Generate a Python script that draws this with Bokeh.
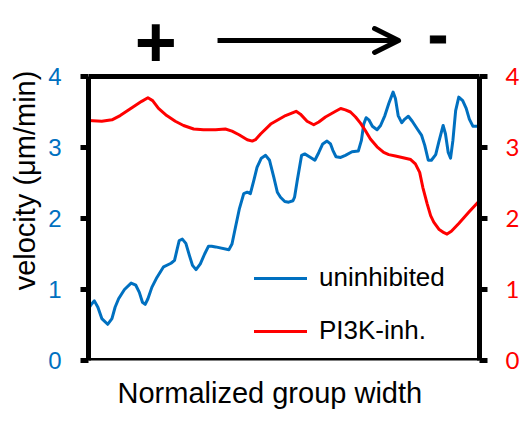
from bokeh.plotting import figure
from bokeh.models import (Range1d, LinearAxis, FixedTicker, Legend, LegendItem,
                          Label, Arrow, OpenHead, Span, Title)
from bokeh.embed import file_html
from bokeh.resources import INLINE

# ---- data (normalized group width, velocity µm/min) ----
uninhibited_x = [0.000, 0.007, 0.015, 0.024, 0.034, 0.049, 0.060, 0.068, 0.077, 0.092,
                 0.109, 0.121, 0.130, 0.138, 0.145, 0.152, 0.162, 0.175, 0.192, 0.211,
                 0.220, 0.226, 0.232, 0.240, 0.249, 0.258, 0.266, 0.275, 0.286, 0.297,
                 0.307, 0.315, 0.325, 0.359, 0.367, 0.376, 0.386, 0.397, 0.406, 0.414,
                 0.423, 0.431, 0.442, 0.453, 0.463, 0.474, 0.483, 0.491, 0.502, 0.512,
                 0.523, 0.527, 0.534, 0.545, 0.553, 0.568, 0.579, 0.589, 0.599, 0.610,
                 0.619, 0.625, 0.633, 0.645, 0.657, 0.674, 0.690, 0.698, 0.704, 0.710,
                 0.717, 0.726, 0.738, 0.747, 0.758, 0.768, 0.779, 0.785, 0.792, 0.801,
                 0.809, 0.818, 0.828, 0.841, 0.852, 0.860, 0.869, 0.877, 0.888, 0.896,
                 0.907, 0.913, 0.920, 0.926, 0.932, 0.939, 0.947, 0.957, 0.966, 0.974,
                 0.983, 0.998]
uninhibited_v = [0.73, 0.79, 0.84, 0.75, 0.59, 0.51, 0.59, 0.75, 0.87, 1.00,
                 1.09, 1.06, 0.96, 0.82, 0.79, 0.87, 1.03, 1.17, 1.32, 1.37,
                 1.41, 1.55, 1.69, 1.71, 1.65, 1.48, 1.34, 1.28, 1.36, 1.50,
                 1.61, 1.61, 1.60, 1.56, 1.64, 1.88, 2.14, 2.35, 2.37, 2.35,
                 2.54, 2.72, 2.85, 2.89, 2.82, 2.58, 2.37, 2.30, 2.24, 2.23,
                 2.25, 2.30, 2.54, 2.89, 2.91, 2.86, 2.82, 2.93, 3.05, 3.09,
                 3.05, 2.96, 2.87, 2.86, 2.89, 2.94, 2.95, 3.10, 3.33, 3.42,
                 3.39, 3.30, 3.25, 3.31, 3.45, 3.62, 3.78, 3.69, 3.45, 3.35,
                 3.40, 3.44, 3.37, 3.26, 3.17, 3.03, 2.82, 2.82, 2.90, 3.08,
                 3.31, 3.19, 2.93, 2.85, 3.10, 3.52, 3.71, 3.66, 3.55, 3.40,
                 3.30, 3.30]

pi3k_x = [0.000, 0.034, 0.060, 0.081, 0.111, 0.136, 0.152, 0.164, 0.179, 0.200,
          0.222, 0.243, 0.269, 0.294, 0.325, 0.350, 0.367, 0.385, 0.406, 0.419,
          0.427, 0.440, 0.466, 0.504, 0.531, 0.542, 0.559, 0.576, 0.589, 0.606,
          0.632, 0.645, 0.657, 0.670, 0.683, 0.696, 0.708, 0.721, 0.738, 0.755,
          0.768, 0.785, 0.802, 0.824, 0.836, 0.847, 0.855, 0.866, 0.875, 0.883,
          0.896, 0.909, 0.917, 0.928, 0.947, 0.973, 0.998]
pi3k_v = [3.38, 3.37, 3.39, 3.45, 3.56, 3.65, 3.70, 3.66, 3.55, 3.45,
          3.37, 3.31, 3.26, 3.25, 3.25, 3.26, 3.23, 3.18, 3.11, 3.09,
          3.11, 3.19, 3.33, 3.45, 3.51, 3.47, 3.37, 3.32, 3.36, 3.43,
          3.51, 3.55, 3.53, 3.50, 3.43, 3.34, 3.24, 3.12, 3.01, 2.93,
          2.90, 2.88, 2.86, 2.83, 2.77, 2.65, 2.44, 2.21, 2.04, 1.95,
          1.85, 1.80, 1.78, 1.82, 1.93, 2.09, 2.24]

y_ticks = [0, 1, 2, 3, 4]
y_min, y_max = 0, 4
series_names = ["uninhibited", "PI3K-inh."]
x_title = "Normalized group width"
y_title = "velocity (μm/min)"
blue = "#0070C0"
red = "#FF0000"

# frame reaches up to the top of the canvas so the "+ --> -" strip is drawn inside it;
# the visible box is made of axes bounded to 0..4 plus spans at 0 and 4
top_extent = 360 / 71
p = figure(width=522, height=423, output_backend="svg", toolbar_location=None,
           x_range=Range1d(0, 1), y_range=Range1d(0, top_extent),
           min_border_left=88, min_border_right=43, min_border_top=0,
           min_border_bottom=63, x_axis_location=None, y_axis_location=None)
p.extra_y_ranges = {"right": Range1d(0, top_extent)}
p.grid.visible = False
p.outline_line_color = None
p.background_fill_color = "white"
p.border_fill_color = "white"

ly = LinearAxis(ticker=FixedTicker(ticks=y_ticks), axis_label=y_title,
                bounds=(y_min, y_max))
ly.axis_line_width = 5
ly.major_tick_line_width = 5
ly.major_tick_in = 0
ly.major_tick_out = 8
ly.minor_tick_line_color = None
ly.major_label_text_color = blue
ly.major_label_text_font = "Liberation Sans"
ly.major_label_text_font_size = "24px"
ly.major_label_standoff = 19
ly.axis_label_text_font = "Liberation Sans"
ly.axis_label_text_font_size = "29px"
ly.axis_label_text_font_style = "normal"
ly.axis_label_text_color = "black"
ly.axis_label_standoff = 4
p.add_layout(ly, "left")

ry = LinearAxis(ticker=FixedTicker(ticks=y_ticks), y_range_name="right",
                bounds=(y_min, y_max))
ry.axis_line_width = 5
ry.major_tick_line_width = 5
ry.major_tick_in = 0
ry.major_tick_out = 8
ry.minor_tick_line_color = None
ry.major_label_text_color = red
ry.major_label_text_font = "Lato"
ry.major_label_text_font_size = "24px"
ry.major_label_standoff = 18
p.add_layout(ry, "right")

# x title below the box (sits a little left of centre in the original)
p.add_layout(Title(text=x_title, align="left", offset=29, standoff=29,
                   text_font="Liberation Sans", text_font_size="29px",
                   text_font_style="normal", text_color="black",
                   vertical_align="bottom"), "below")

p.add_layout(Span(location=y_min, dimension="width", line_color="black", line_width=5))
p.add_layout(Span(location=y_max, dimension="width", line_color="black", line_width=5))

r1 = p.line(uninhibited_x, uninhibited_v, line_color=blue, line_width=3,
            line_join="round", line_cap="round")
r2 = p.line(pi3k_x, pi3k_v, line_color=red, line_width=3, y_range_name="right",
            line_join="round", line_cap="round")

legend = Legend(items=[LegendItem(label=series_names[0], renderers=[r1]),
                       LegendItem(label=series_names[1], renderers=[r2])],
                location=(166, 14), orientation="vertical")
legend.border_line_color = None
legend.background_fill_alpha = 0
legend.padding = 0
legend.margin = 0
legend.spacing = 22
legend.glyph_width = 53
legend.glyph_height = 30
legend.label_height = 30
legend.label_standoff = 12
legend.label_text_font = "Liberation Sans"
legend.label_text_font_size = "26px"
legend.label_text_color = "black"
p.add_layout(legend)

# direction annotation above the box
p.add_layout(Label(x=0.172, y=4.486, text="+", text_align="center",
                   text_baseline="middle", text_font="Liberation Sans",
                   text_font_size="72px", text_font_style="bold", text_color="black"))
p.add_layout(Label(x=0.894, y=4.592, text="-", text_align="center",
                   text_baseline="middle", text_font="Liberation Sans",
                   text_font_size="60px", text_font_style="bold", text_color="black",
                   text_outline_color="black"))
p.add_layout(Arrow(x_start=0.330, y_start=4.507, x_end=0.793, y_end=4.507,
                   line_width=5, line_color="black",
                   end=OpenHead(size=24, line_width=5, line_color="black",
                                line_cap="round", line_join="round")))

open("out.html", "w").write(file_html(p, INLINE))
